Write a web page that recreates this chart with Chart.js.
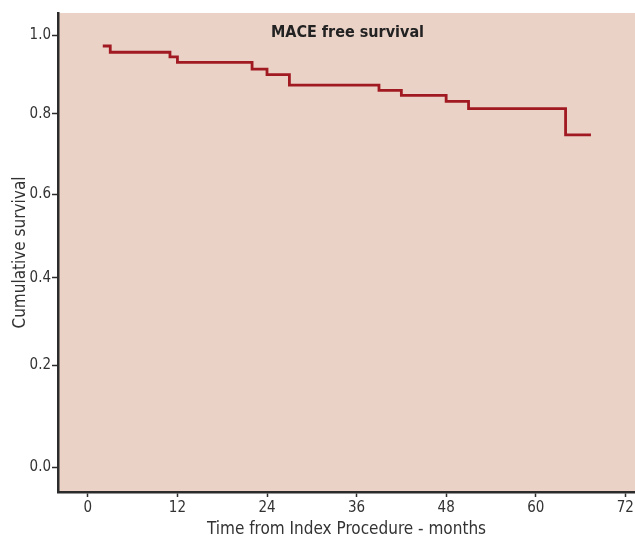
<!DOCTYPE html>
<html>
<head>
<meta charset="utf-8">
<title>MACE free survival</title>
<script src="https://cdn.jsdelivr.net/npm/chart.js@4.4.1/dist/chart.umd.min.js"></script>
<style>
    html, body { margin: 0; padding: 0; background: #ffffff; }
    #wrap { width: 635px; height: 538px; }
</style>
</head>
<body>
<div id="wrap"><canvas id="survivalChart" width="635" height="538"></canvas></div>
<script>

// Kaplan-Meier steps
const months = [2, 3, 11, 12, 22, 24, 27, 39, 42, 48, 51, 64, 67.4];
const survival = [0.972, 0.956, 0.944, 0.930, 0.913, 0.899, 0.872, 0.859, 0.846, 0.831, 0.813, 0.747, 0.747];

const xTicks = [0, 12, 24, 36, 48, 60, 72];
const yTicks = [0.0, 0.2, 0.4, 0.6, 0.8, 1.0];

const chartTitle = 'MACE free survival';
const xTitle = 'Time from Index Procedure - months';
const yTitle = 'Cumulative survival';

const FONT = '"Liberation Sans Narrow", "DejaVu Sans Condensed", "Arial Narrow", sans-serif';
const INK = '#2b2b2b';


// the source figure's y axis is slightly compressed toward the top, a power scale fits it
class PowerScale extends Chart.LinearScale {
    static id = 'power';
    static defaults = {};

    _warp(v) {
        const p = this.options.exponent || 1;
        return Math.sign(v) * Math.pow(Math.abs(v), p);
    }

    _unwarp(w) {
        const p = this.options.exponent || 1;
        return Math.sign(w) * Math.pow(Math.abs(w), 1 / p);
    }

    getPixelForValue(value) {
        const lo = this._warp(this.min);
        const hi = this._warp(this.max);
        return this.getPixelForDecimal((this._warp(value) - lo) / (hi - lo));
    }

    getValueForPixel(pixel) {
        const lo = this._warp(this.min);
        const hi = this._warp(this.max);
        return this._unwarp(lo + this.getDecimalForPixel(pixel) * (hi - lo));
    }
}
Chart.register(PowerScale);


// background of the plot area + title written inside it
const plotPanel = {
    id: 'plotPanel',
    beforeDraw(chart) {
        const { ctx, chartArea: a } = chart;
        ctx.save();
        ctx.fillStyle = '#ebd2c7';
        ctx.fillRect(a.left, a.top, a.right - a.left, a.bottom - a.top);
        ctx.restore();
    },
    afterDraw(chart) {
        const { ctx, chartArea: a } = chart;
        ctx.save();
        ctx.font = 'bold 16px ' + FONT;
        ctx.fillStyle = '#222222';
        ctx.textAlign = 'center';
        ctx.textBaseline = 'middle';
        ctx.fillText(chartTitle, (a.left + a.right) / 2 + 1, a.top + 20);
        ctx.restore();
    }
};


const canvas = document.getElementById('survivalChart');

const survivalChart = new Chart(canvas, {
    type: 'line',
    data: {
        datasets: [
            {
                data: months.map((m, i) => ({ x: m, y: survival[i] })),
                borderColor: '#a11a22',
                borderWidth: 2.8,
                stepped: 'before',
                pointRadius: 0,
                fill: false
            }
        ]
    },
    options: {
        responsive: false,
        animation: false,
        layout: {
            padding: { top: 13, right: 0, bottom: 0, left: 0 }
        },
        plugins: {
            legend: { display: false },
            tooltip: { enabled: false }
        },
        scales: {
            x: {
                type: 'linear',
                min: -4,
                max: 73.3,
                afterBuildTicks: scale => { scale.ticks = xTicks.map(v => ({ value: v })); },
                afterFit: scale => {
                    scale.height = 46;
                    scale.paddingRight = 0;
                },
                grid: { drawOnChartArea: false, tickLength: 5, tickColor: INK, tickWidth: 1.5 },
                border: { display: true, color: INK, width: 2.5 },
                ticks: {
                    color: '#333333',
                    padding: 2,
                    maxRotation: 0,
                    font: { family: FONT, size: 15 }
                },
                title: {
                    display: true,
                    text: xTitle,
                    color: '#333333',
                    padding: { top: 0, bottom: 0 },
                    font: { family: FONT, size: 17, lineHeight: 1.0 }
                }
            },
            y: {
                type: 'power',
                exponent: 0.9,
                min: -0.042,
                max: 1.057,
                afterBuildTicks: scale => { scale.ticks = yTicks.map(v => ({ value: v })); },
                afterFit: scale => { scale.width = 58; },
                grid: { drawOnChartArea: false, tickLength: 6, tickColor: INK, tickWidth: 1.5 },
                border: { display: true, color: INK, width: 2.5 },
                ticks: {
                    color: '#333333',
                    padding: 1,
                    font: { family: FONT, size: 15 },
                    callback: v => v.toFixed(1)
                },
                title: {
                    display: true,
                    text: yTitle,
                    color: '#333333',
                    padding: { top: 10, bottom: 0 },
                    font: { family: FONT, size: 17 }
                }
            }
        }
    },
    plugins: [plotPanel]
});

</script>
</body>
</html>
